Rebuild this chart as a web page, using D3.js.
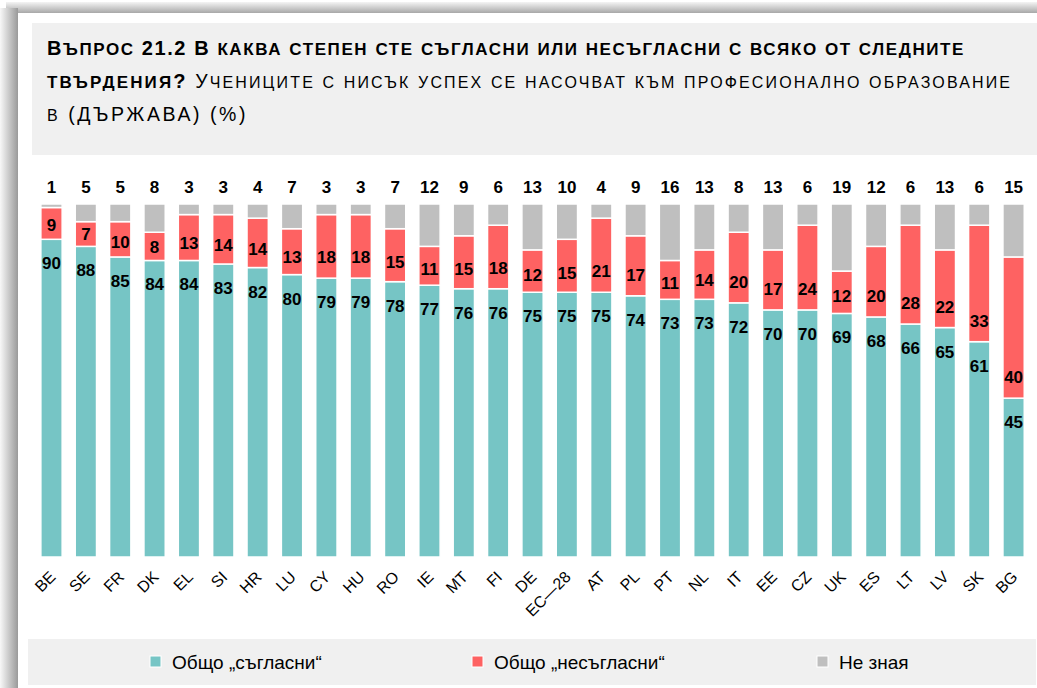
<!DOCTYPE html>
<html>
<head>
<meta charset="utf-8">
<script src="https://cdn.jsdelivr.net/npm/d3@7"></script>
<style>
  body { margin: 0; background: #fff; }
  svg text { font-family: Arial, "Liberation Sans", sans-serif; }
</style>
</head>
<body>
<div id="chart"></div>
<script>
// data
var countries = ["BE","SE","FR","DK","EL","SI","HR","LU","CY","HU","RO","IE","MT","FI","DE","EC—28","AT","PL","PT","NL","IT","EE","CZ","UK","ES","LT","LV","SK","BG"]
var agree = [90,88,85,84,84,83,82,80,79,79,78,77,76,76,75,75,75,74,73,73,72,70,70,69,68,66,65,61,45]
var disagree = [9,7,10,8,13,14,14,13,18,18,15,11,15,18,12,15,21,17,11,14,20,17,24,12,20,28,22,33,40]
var dontKnow = [1,5,5,8,3,3,4,7,3,3,7,12,9,6,13,10,4,9,16,13,8,13,6,19,12,6,13,6,15]
var seriesNames = ["Общо „съгласни“", "Общо „несъгласни“", "Не зная"]
var colors = ["#76C5C5", "#FE6262", "#BFBFBF"]

var width = 1037, height = 688

var svg = d3.select("#chart").append("svg")
  .attr("width", width)
  .attr("height", height)

// drop shadow of the frame (left + top)
var defs = svg.append("defs")
var gl = defs.append("linearGradient").attr("id", "shL").attr("x1", 0).attr("x2", 1).attr("y1", 0).attr("y2", 0)
gl.append("stop").attr("offset", "0%").attr("stop-color", "#f8f8f8")
gl.append("stop").attr("offset", "100%").attr("stop-color", "#9a9a9a")
var gt = defs.append("linearGradient").attr("id", "shT").attr("x1", 0).attr("x2", 0).attr("y1", 0).attr("y2", 1)
gt.append("stop").attr("offset", "0%").attr("stop-color", "#f4f4f4")
gt.append("stop").attr("offset", "100%").attr("stop-color", "#a8a8a8")

svg.append("rect").attr("x", 6).attr("y", 2).attr("width", width - 6).attr("height", 11).attr("fill", "url(#shT)")
svg.append("rect").attr("x", 0).attr("y", 8).attr("width", 18).attr("height", height - 8).attr("fill", "url(#shL)")
svg.append("rect").attr("x", 18).attr("y", 13).attr("width", width - 18).attr("height", height - 13).attr("fill", "#fff")

// title box
svg.append("rect").attr("x", 32).attr("y", 23).attr("width", width - 32).attr("height", 132).attr("fill", "#f0f0f0")

// title in small caps: lowercase letters drawn as smaller capitals
function titleLine(yPos, segments, target) {
  var t = svg.append("text").attr("x", 47).attr("y", yPos).attr("fill", "#000")
  var n = 0
  segments.forEach(function (s) {
    var full = s.bold ? 20 : 19.5
    var small = s.bold ? 17 : 16
    var runs = []
    s.text.split("").forEach(function (ch) {
      var low = ch !== ch.toUpperCase()
      if (runs.length && runs[runs.length - 1].low === low) runs[runs.length - 1].txt += ch
      else runs.push({ low: low, txt: ch })
    })
    runs.forEach(function (r) {
      t.append("tspan")
        .attr("font-weight", s.bold ? "bold" : "normal")
        .attr("font-size", r.low ? small : full)
        .text(r.txt.toUpperCase())
    })
    n += s.text.length
  })
  var w = t.node().getComputedTextLength()
  t.attr("letter-spacing", Math.max(0, (target - w) / n))
}

titleLine(55, [{ text: "Въпрос 21.2 В каква степен сте съгласни или несъгласни с всяко от следните", bold: true }], 918)
titleLine(88, [
  { text: "твърдения?", bold: true },
  { text: " Учениците с нисък успех се насочват към професионално образование", bold: false }
], 965)
titleLine(121, [{ text: "в (ДЪРЖАВА) (%)", bold: false }], 201)

// scales
var x = d3.scaleBand()
  .domain(countries)
  .range([27.8, 1037.3])
  .padding(0.38)

var y = d3.scaleLinear()
  .domain([0, 100])
  .range([557, 204])

var rows = countries.map(function (c, i) {
  return { country: c, agree: agree[i], disagree: disagree[i], dontKnow: dontKnow[i] }
})

var stack = d3.stack().keys(["agree", "disagree", "dontKnow"])
var series = stack(rows)

var g = svg.append("g")

g.selectAll("g.series")
  .data(series)
  .enter().append("g")
    .attr("class", "series")
    .attr("fill", function (d, i) { return colors[i] })
  .selectAll("rect")
  .data(function (d) { return d })
  .enter().append("rect")
    .attr("x", function (d) { return x(d.data.country) })
    .attr("width", x.bandwidth())
    .attr("y", function (d) { return y(d[1]) })
    .attr("height", function (d) { return y(d[0]) - y(d[1]) })
    .attr("stroke", "#fff")
    .attr("stroke-width", 1.5)

// value labels
var labels = svg.append("g")
  .attr("text-anchor", "middle")
  .style("font-size", "17px")
  .style("font-weight", "bold")
  .attr("fill", "#000")

// agree: near the top of the teal segment
labels.selectAll("text.agree")
  .data(series[0])
  .enter().append("text")
    .attr("class", "agree")
    .attr("x", function (d) { return x(d.data.country) + x.bandwidth() / 2 })
    .attr("y", function (d) { return y(d[1]) + 30 })
    .text(function (d) { return d.data.agree })

// disagree: in the lower part of the red segment
labels.selectAll("text.disagree")
  .data(series[1])
  .enter().append("text")
    .attr("class", "disagree")
    .attr("x", function (d) { return x(d.data.country) + x.bandwidth() / 2 })
    .attr("y", function (d) {
      var bottom = y(d[0]), h = y(d[0]) - y(d[1])
      return bottom - Math.max(6, Math.min(15, 0.5 + h * 0.25))
    })
    .text(function (d) { return d.data.disagree })

// don't know: above the bars
labels.selectAll("text.dk")
  .data(series[2])
  .enter().append("text")
    .attr("class", "dk")
    .attr("x", function (d) { return x(d.data.country) + x.bandwidth() / 2 })
    .attr("y", 193)
    .text(function (d) { return d.data.dontKnow })

// x axis labels, rotated 45 degrees
svg.append("g")
  .selectAll("text")
  .data(countries)
  .enter().append("text")
    .attr("text-anchor", "end")
    .attr("transform", function (d) {
      return "translate(" + (x(d) + x.bandwidth() / 2 + 5) + ",578) rotate(-45)"
    })
    .style("font-size", "16px")
    .attr("fill", "#000")
    .text(function (d) { return d })

// legend
svg.append("rect").attr("x", 28).attr("y", 639).attr("width", width - 29).attr("height", 46).attr("fill", "#f0f0f0")

var legendX = [150, 472, 817]
var legend = svg.append("g")
  .selectAll("g")
  .data(seriesNames)
  .enter().append("g")
    .attr("transform", function (d, i) { return "translate(" + legendX[i] + ",656)" })

legend.append("rect")
  .attr("width", 11)
  .attr("height", 11)
  .attr("fill", function (d, i) { return colors[i] })
  .attr("stroke", "#fff")
  .attr("stroke-width", 1)

legend.append("text")
  .attr("x", 22)
  .attr("y", 13)
  .style("font-size", "19px")
  .attr("fill", "#000")
  .text(function (d) { return d })
</script>
</body>
</html>
